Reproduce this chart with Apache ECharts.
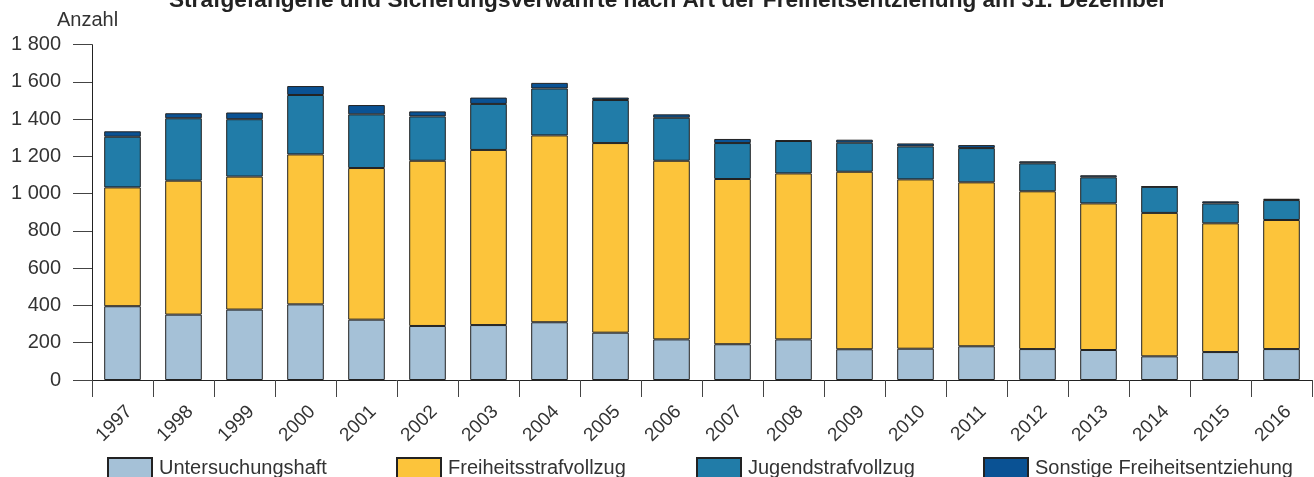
<!DOCTYPE html>
<html>
<head>
<meta charset="utf-8">
<style>
  html, body { margin: 0; padding: 0; background: #fff; }
  #chart { width: 1314px; height: 477px; }
</style>
<script src="https://cdn.jsdelivr.net/npm/echarts@6/dist/echarts.min.js"></script>
</head>
<body>
<div id="chart"></div>
<script>
const years = ['1997','1998','1999','2000','2001','2002','2003','2004','2005','2006','2007','2008','2009','2010','2011','2012','2013','2014','2015','2016'];
const untersuchungshaft = [396, 351, 378, 406, 324, 290, 295, 310, 254, 218, 192, 218, 165, 168, 181, 166, 161, 127, 150, 166];
const freiheitsstrafvollzug = [638, 719, 714, 805, 814, 887, 940, 1003, 1018, 959, 887, 891, 953, 909, 880, 847, 787, 770, 691, 693];
const jugendstrafvollzug = [272, 335, 308, 319, 288, 238, 247, 252, 231, 231, 193, 174, 156, 177, 184, 150, 140, 140, 107, 107];
const sonstige = [29, 27, 36, 48, 50, 27, 34, 30, 13, 18, 22, 4, 16, 16, 16, 11, 11, 2, 11, 7];
const seriesNames = ['Untersuchungshaft', 'Freiheitsstrafvollzug', 'Jugendstrafvollzug', 'Sonstige Freiheitsentziehung'];
const seriesColors = ['#a5c1d7', '#fcc43b', '#217ca8', '#0a5294'];
const legendLefts = [107, 396, 696, 983];

const FONT = "'Liberation Sans', Arial, sans-serif";
const chart = echarts.init(document.getElementById('chart'), null, { renderer: 'canvas' });

const values = [untersuchungshaft, freiheitsstrafvollzug, jugendstrafvollzug, sonstige];

const option = {
  backgroundColor: '#fff',
  animation: false,
  textStyle: { fontFamily: FONT },
  title: {
    text: 'Strafgefangene und Sicherungsverwahrte nach Art der Freiheitsentziehung am 31. Dezember',
    left: 164,
    top: -16,
    textStyle: { fontFamily: FONT, fontSize: 22.6, fontWeight: 'bold', color: '#222' }
  },
  graphic: [{
    type: 'text',
    left: 57,
    top: 10,
    style: { text: 'Anzahl', font: "20px 'Liberation Sans', Arial, sans-serif", fill: '#333' }
  }],
  legend: seriesNames.map((n, i) => ({
    data: [n],
    left: legendLefts[i],
    top: 457,
    padding: 0,
    itemWidth: 44,
    itemHeight: 20,
    icon: 'rect',
    selectedMode: false,
    textStyle: { fontFamily: FONT, fontSize: 20, color: '#333', padding: [0, 0, 0, 2] }
  })),
  grid: { left: 92, right: 2, top: 44.7, bottom: 97, containLabel: false },
  xAxis: {
    type: 'category',
    data: years,
    axisLine: { show: true, lineStyle: { color: '#222', width: 1 } },
    axisTick: { show: true, length: 17, lineStyle: { color: '#444', width: 1 } },
    axisLabel: { rotate: 45, margin: 22, fontSize: 19, color: '#333', fontFamily: FONT, verticalAlign: 'top' },
    splitLine: { show: false }
  },
  yAxis: {
    type: 'value',
    min: 0,
    max: 1800,
    interval: 200,
    axisLine: { show: true, lineStyle: { color: '#222', width: 1 } },
    axisTick: { show: true, length: 19, lineStyle: { color: '#444', width: 1 } },
    axisLabel: {
      margin: 31, fontSize: 20, color: '#333', fontFamily: FONT,
      formatter: v => String(v).replace(/\B(?=(\d{3})+(?!\d))/g, ' ')
    },
    splitLine: { show: false }
  },
  series: seriesNames.map((n, i) => ({
    name: n,
    type: 'bar',
    stack: 'total',
    barWidth: '60%',
    data: values[i],
    itemStyle: { color: seriesColors[i], borderColor: '#222', borderWidth: 1 }
  }))
};
chart.setOption(option);
</script>
</body>
</html>
